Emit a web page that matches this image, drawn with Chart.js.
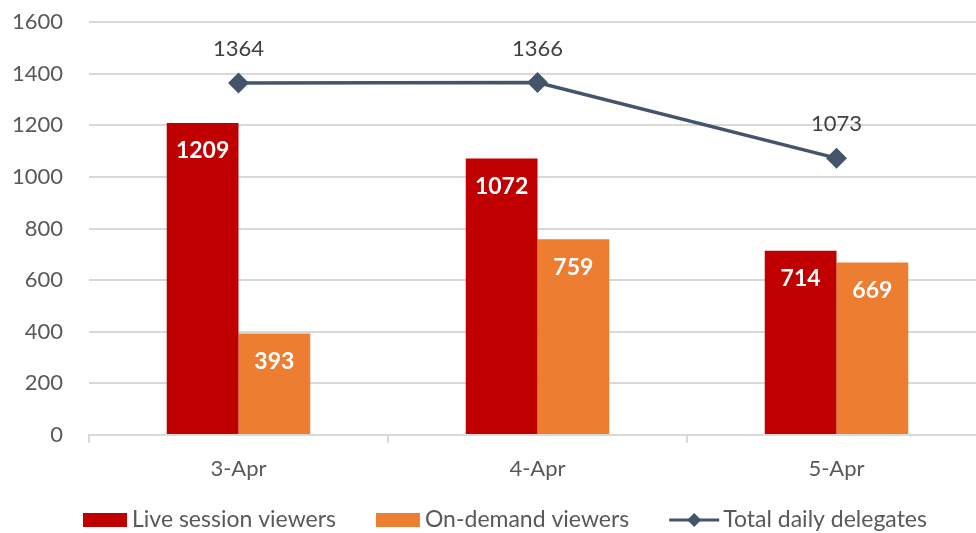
<!DOCTYPE html>
<html>
<head>
<meta charset="utf-8">
<script src="https://cdn.jsdelivr.net/npm/chart.js@4.4.1/dist/chart.umd.min.js"></script>
<style>
  html, body { margin: 0; padding: 0; background: #fff; overflow: hidden; }
  #wrap { width: 976px; height: 533px; overflow: hidden; }
</style>
</head>
<body>
<!-- the plot runs a little past the right edge, as in the original -->
<div id="wrap"><canvas id="myChart" width="987" height="533"></canvas></div>
<script>
// data
var days = ["3-Apr", "4-Apr", "5-Apr"];
var liveViewers = [1209, 1072, 714];
var onDemandViewers = [393, 759, 669];
var totalDelegates = [1364, 1366, 1073];
var yTicks = [0, 200, 400, 600, 800, 1000, 1200, 1400, 1600];

var FONT = "Lato, 'Open Sans', sans-serif";
var TEXT_GREY = "#595959";

// value labels: white bold inside bars, grey above the line points
var dataLabelPlugin = {
    id: "dataLabels",
    afterDatasetsDraw: function (chart) {
        var ctx = chart.ctx;
        ctx.save();
        ctx.textAlign = "center";
        ctx.textBaseline = "middle";
        chart.data.datasets.forEach(function (dataset, i) {
            var meta = chart.getDatasetMeta(i);
            if (meta.hidden) return;
            meta.data.forEach(function (el, idx) {
                var txt = String(dataset.data[idx]);
                if (dataset.type === "line") {
                    ctx.font = "22px " + FONT;
                    ctx.fillStyle = "#404040";
                    ctx.fillText(txt, el.x, el.y - 34);
                } else {
                    ctx.font = "bold 23px " + FONT;
                    ctx.fillStyle = "#ffffff";
                    ctx.fillText(txt, el.x, el.y + 28);
                }
            });
        });
        ctx.restore();
    }
};

// legend drawn by hand so the line entry gets its line + diamond
var legendPlugin = {
    id: "bottomLegend",
    afterDraw: function (chart) {
        var ctx = chart.ctx;
        ctx.save();
        ctx.font = "23px " + FONT;
        ctx.textBaseline = "middle";
        var x = 83, y = 520;
        chart.data.datasets.forEach(function (ds) {
            if (ds.type === "line") {
                ctx.strokeStyle = ds.borderColor;
                ctx.lineWidth = 3;
                ctx.beginPath();
                ctx.moveTo(x, y);
                ctx.lineTo(x + 50, y);
                ctx.stroke();
                ctx.fillStyle = ds.borderColor;
                ctx.beginPath();
                ctx.moveTo(x + 25, y - 7);
                ctx.lineTo(x + 32, y);
                ctx.lineTo(x + 25, y + 7);
                ctx.lineTo(x + 18, y);
                ctx.closePath();
                ctx.fill();
                x += 54;
            } else {
                ctx.fillStyle = ds.backgroundColor;
                ctx.fillRect(x, y - 7, 44, 14);
                x += 49;
            }
            ctx.fillStyle = TEXT_GREY;
            ctx.textAlign = "left";
            ctx.fillText(ds.label, x, y);
            x += ctx.measureText(ds.label).width + 40;
        });
        ctx.restore();
    }
};

var chart = new Chart(document.getElementById("myChart"), {
    type: "bar",
    data: {
        labels: days,
        datasets: [
            {
                label: "Live session viewers",
                data: liveViewers,
                backgroundColor: "#C00000",
                barPercentage: 1.0,
                categoryPercentage: 0.48,
                order: 1
            },
            {
                label: "On-demand viewers",
                data: onDemandViewers,
                backgroundColor: "#ED7D31",
                barPercentage: 1.0,
                categoryPercentage: 0.48,
                order: 1
            },
            {
                type: "line",
                label: "Total daily delegates",
                data: totalDelegates,
                borderColor: "#44546A",
                backgroundColor: "#44546A",
                borderWidth: 3.5,
                pointStyle: "rectRot",
                pointRadius: 8,
                pointHoverRadius: 8,
                tension: 0,
                order: 0
            }
        ]
    },
    options: {
        responsive: false,
        animation: false,
        layout: { autoPadding: false, padding: { top: 22, right: 1, bottom: 48, left: 0 } },
        plugins: {
            legend: { display: false },
            tooltip: { enabled: false }
        },
        scales: {
            x: {
                grid: {
                    display: true,
                    drawOnChartArea: false,
                    drawTicks: true,
                    tickLength: 8,
                    color: "#D9D9D9",
                    lineWidth: 2
                },
                border: { display: true, color: "#D9D9D9", width: 2 },
                ticks: {
                    color: TEXT_GREY,
                    font: { family: FONT, size: 22 },
                    padding: 13
                },
                afterFit: function (s) { s.height = 50; }
            },
            y: {
                min: 0,
                max: 1600,
                afterBuildTicks: function (s) {
                    s.ticks = yTicks.map(function (v) { return { value: v }; });
                },
                grid: {
                    color: "#D9D9D9",
                    lineWidth: 2,
                    drawTicks: true,
                    tickLength: 17,
                    tickColor: "rgba(0,0,0,0)"
                },
                border: { display: false },
                ticks: {
                    color: TEXT_GREY,
                    font: { family: FONT, size: 22 },
                    padding: 9,
                    callback: function (v) { return String(v); }
                },
                afterFit: function (s) { s.width = 89; }
            }
        }
    },
    plugins: [dataLabelPlugin, legendPlugin]
});
</script>
</body>
</html>
